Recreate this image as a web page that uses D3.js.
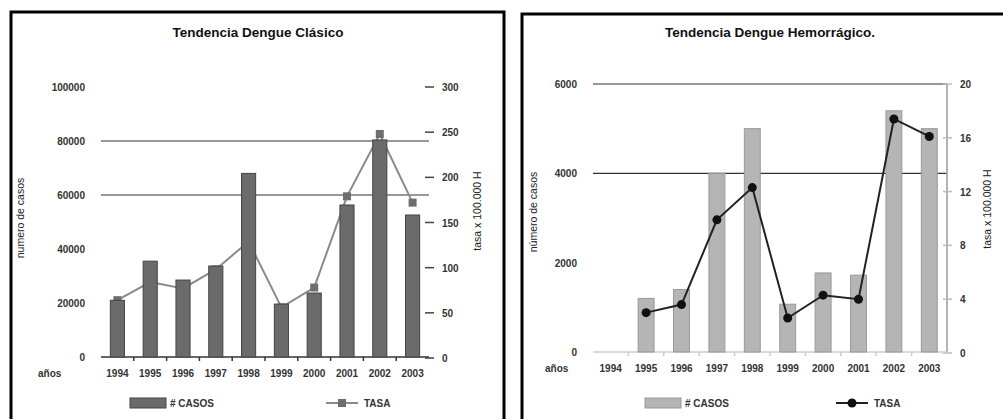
<!DOCTYPE html>
<html lang="es">
<head>
<meta charset="UTF-8">
<title>Tendencia Dengue</title>
<script src="https://d3js.org/d3.v7.min.js"></script>
<style>
  body { margin: 0; background: #fff; }
  svg text { font-family: "Liberation Sans", Arial, sans-serif; }
  .tick-lbl { font-size: 10px; fill: #333; font-weight: bold; }
  .axis-title { font-size: 10.5px; fill: #222; }
  .chart-title { font-size: 13.5px; font-weight: bold; fill: #111; }
</style>
</head>
<body>
<div id="container"></div>
<script>
// DATA
const years = ["1994","1995","1996","1997","1998","1999","2000","2001","2002","2003"];

const casosClasico = [21000, 35500, 28500, 33700, 68000, 19600, 23700, 56300, 80400, 52600];
const tasaClasico  = [64, 84, 77, 98, 129, 56, 78, 179, 248, 172];
const ticksCasosClasico = [0, 20000, 40000, 60000, 80000, 100000];
const ticksTasaClasico  = [0, 50, 100, 150, 200, 250, 300];
const gridClasico = [60000, 80000];

const casosHemorragico = [null, 1200, 1400, 4000, 5000, 1070, 1770, 1720, 5400, 5000];
const tasaHemorragico  = [null, 3.0, 3.6, 9.9, 12.3, 2.6, 4.3, 4.0, 17.4, 16.1];
const ticksCasosHemorragico = [0, 2000, 4000, 6000];
const ticksTasaHemorragico  = [0, 4, 8, 12, 16, 20];
const gridHemorragico = [4000, 6000];

const W = 1003, H = 419;
const svg = d3.select("#container").append("svg")
  .attr("width", W).attr("height", H);

function drawChart(c) {
  const g = svg.append("g");

  // frame
  g.append("rect")
    .attr("x", c.frame[0]).attr("y", c.frame[1])
    .attr("width", c.frame[2]).attr("height", c.frame[3])
    .attr("fill", "none").attr("stroke", "#000").attr("stroke-width", 3);

  g.append("text").attr("class", "chart-title")
    .attr("x", c.titleX).attr("y", 37)
    .attr("text-anchor", "middle").text(c.title);

  const x = d3.scaleBand().domain(years).range([c.x0, c.x1]).padding(0);
  const yL = d3.scaleLinear().domain([0, c.maxL]).range([c.yBottom, c.yTop]);
  const yR = d3.scaleLinear().domain([0, c.maxR]).range([c.yBottomR, c.yTop]);

  // grid lines
  g.selectAll(".grid").data(c.grid).enter().append("line")
    .attr("x1", c.x0).attr("x2", c.x1)
    .attr("y1", d => yL(d)).attr("y2", d => yL(d))
    .attr("stroke", "#333").attr("stroke-width", 1.2);

  // left axis labels
  g.selectAll(".lt").data(c.ticksL).enter().append("text")
    .attr("class", "tick-lbl")
    .attr("x", c.x0 - 16).attr("y", d => yL(d) + 4)
    .attr("text-anchor", "end").text(d => d);

  // right axis
  if (c.rightLine) {
    g.append("line").attr("x1", c.x1).attr("x2", c.x1)
      .attr("y1", yR(0)).attr("y2", yR(c.maxR))
      .attr("stroke", "#999").attr("stroke-width", 1.5);
  }
  g.selectAll(".rtick").data(c.ticksR).enter().append("line")
    .attr("x1", c.x1 - 4).attr("x2", c.x1 + 5)
    .attr("y1", d => yR(d)).attr("y2", d => yR(d))
    .attr("stroke", c.rTickColor).attr("stroke-width", 1.5);
  g.selectAll(".rt").data(c.ticksR).enter().append("text")
    .attr("class", "tick-lbl")
    .attr("x", c.x1 + 13).attr("y", d => yR(d) + 4)
    .text(d => d);

  // x axis
  g.append("line").attr("x1", c.x0).attr("x2", c.x1)
    .attr("y1", c.yBottom).attr("y2", c.yBottom)
    .attr("stroke", c.xAxisColor).attr("stroke-width", 1.5);
  g.selectAll(".xt").data(years.slice(1)).enter().append("line")
    .attr("x1", d => x(d)).attr("x2", d => x(d))
    .attr("y1", c.yBottom).attr("y2", c.yBottom + 4)
    .attr("stroke", c.xAxisColor).attr("stroke-width", 1.5);
  g.selectAll(".xl").data(years).enter().append("text")
    .attr("class", "tick-lbl")
    .attr("x", d => x(d) + x.bandwidth() / 2).attr("y", c.yBottom + 20)
    .attr("text-anchor", "middle").attr("font-size", "9.5px").text(d => d);
  g.append("text").attr("class", "tick-lbl")
    .attr("x", c.anosX).attr("y", c.yBottom + 20).text("años");

  const pts = years.map((d, i) => ({ year: d, v: c.tasa[i] })).filter(d => d.v != null);
  const line = d3.line()
    .x(d => x(d.year) + x.bandwidth() / 2)
    .y(d => yR(d.v));

  function drawLine() {
    g.append("path").datum(pts).attr("d", line)
      .attr("fill", "none").attr("stroke", c.lineColor).attr("stroke-width", c.lineWidth);
    if (c.marker === "square") {
      g.selectAll(".mk").data(pts).enter().append("rect")
        .attr("x", d => x(d.year) + x.bandwidth() / 2 - 4)
        .attr("y", d => yR(d.v) - 4)
        .attr("width", 8).attr("height", 8)
        .attr("fill", c.markerColor);
    } else {
      g.selectAll(".mk").data(pts).enter().append("circle")
        .attr("cx", d => x(d.year) + x.bandwidth() / 2)
        .attr("cy", d => yR(d.v)).attr("r", 4.5)
        .attr("fill", c.markerColor);
    }
  }

  // in the first chart the line sits behind the bars
  if (c.lineBehind) drawLine();

  // bars
  const bw = x.bandwidth() * c.barRatio;
  g.selectAll(".bar").data(years.map((d, i) => ({ year: d, v: c.casos[i] })).filter(d => d.v != null))
    .enter().append("rect")
    .attr("x", d => x(d.year) + (x.bandwidth() - bw) / 2)
    .attr("y", d => yL(d.v))
    .attr("width", bw)
    .attr("height", d => yL(0) - yL(d.v))
    .attr("fill", c.barFill).attr("stroke", c.barStroke).attr("stroke-width", 1);

  if (!c.lineBehind) drawLine();

  // axis titles
  g.append("text").attr("class", "axis-title")
    .attr("transform", `translate(${c.leftTitleX},${c.leftTitleY}) rotate(-90)`)
    .attr("text-anchor", "middle").text(c.leftTitle);
  g.append("text").attr("class", "axis-title")
    .attr("transform", `translate(${c.rightTitleX},${c.rightTitleY}) rotate(-90)`)
    .attr("text-anchor", "middle").text("tasa x 100.000 H");

  // legend
  const ly = 403;
  g.append("rect").attr("x", c.legBar).attr("y", ly - 5).attr("width", 36).attr("height", 10)
    .attr("fill", c.barFill).attr("stroke", c.barStroke);
  g.append("text").attr("class", "tick-lbl").attr("x", c.legBar + 40).attr("y", ly + 4).text("# CASOS");
  g.append("line").attr("x1", c.legLine).attr("x2", c.legLine + 32)
    .attr("y1", ly).attr("y2", ly).attr("stroke", c.lineColor).attr("stroke-width", c.lineWidth);
  if (c.marker === "square") {
    g.append("rect").attr("x", c.legLine + 12).attr("y", ly - 4).attr("width", 8).attr("height", 8)
      .attr("fill", c.markerColor);
  } else {
    g.append("circle").attr("cx", c.legLine + 16).attr("cy", ly).attr("r", 4.5).attr("fill", c.markerColor);
  }
  g.append("text").attr("class", "tick-lbl").attr("x", c.legLine + 38).attr("y", ly + 4).text("TASA");
}

drawChart({
  frame: [11, 12, 493, 430],
  title: "Tendencia Dengue Clásico", titleX: 258,
  x0: 101, x1: 429, yTop: 87, yBottom: 357, yBottomR: 358,
  maxL: 100000, maxR: 300,
  ticksL: ticksCasosClasico, ticksR: ticksTasaClasico, grid: gridClasico,
  casos: casosClasico, tasa: tasaClasico,
  barRatio: 0.43, barFill: "#6b6b6b", barStroke: "#444",
  lineColor: "#8a8a8a", lineWidth: 2, marker: "square", markerColor: "#6e6e6e",
  lineBehind: true,
  rightLine: false, rTickColor: "#444", xAxisColor: "#333",
  anosX: 38,
  leftTitle: "numero de casos", leftTitleX: 24, leftTitleY: 218,
  rightTitleX: 481, rightTitleY: 211,
  legBar: 130, legLine: 326
});

drawChart({
  frame: [522, 14, 500, 430],
  title: "Tendencia Dengue Hemorrágico.", titleX: 770,
  x0: 593, x1: 947, yTop: 84, yBottom: 352, yBottomR: 353,
  maxL: 6000, maxR: 20,
  ticksL: ticksCasosHemorragico, ticksR: ticksTasaHemorragico, grid: gridHemorragico,
  casos: casosHemorragico, tasa: tasaHemorragico,
  barRatio: 0.45, barFill: "#b5b5b5", barStroke: "#999",
  lineColor: "#222", lineWidth: 2, marker: "circle", markerColor: "#111",
  lineBehind: false,
  rightLine: true, rTickColor: "#bbb", xAxisColor: "#ccc",
  anosX: 545,
  leftTitle: "número de casos", leftTitleX: 537, leftTitleY: 212,
  rightTitleX: 991, rightTitleY: 209,
  legBar: 645, legLine: 836
});
</script>
</body>
</html>
